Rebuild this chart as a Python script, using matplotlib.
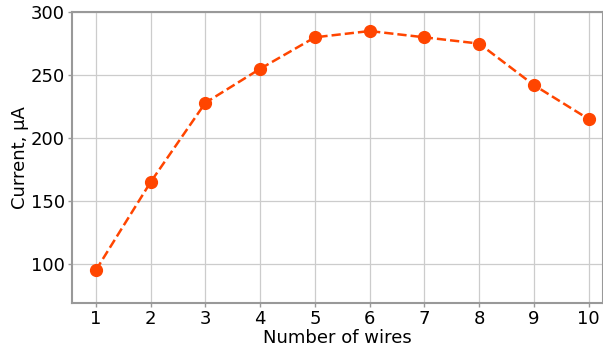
import matplotlib
matplotlib.use("Agg")
import matplotlib.pyplot as plt

wires = [1, 2, 3, 4, 5, 6, 7, 8, 9, 10]
current = [95, 165, 228, 255, 280, 285, 280, 275, 242, 215]

fig = plt.figure(figsize=(6.03, 3.47), dpi=100)
ax = fig.add_axes([0.119, 0.127, 0.881, 0.838])

ax.plot(wires, current, linestyle="--", color="#ff4500", linewidth=1.8,
        marker="o", markersize=8.5)

ax.set_xlim(0.56, 10.26)
ax.set_ylim(69, 300)
ax.set_xticks(wires)
ax.set_yticks([100, 150, 200, 250, 300])
ax.grid(True, color="#cccccc", linewidth=0.9)
ax.set_axisbelow(True)

for side in ["left", "bottom", "top", "right"]:
    ax.spines[side].set_color("#999999")
    ax.spines[side].set_linewidth(1.5)

ax.tick_params(labelsize=13, color="#999999", length=3, width=1, pad=2)
ax.set_xlabel("Number of wires", fontsize=13, labelpad=0.5)
ax.set_ylabel("Current, μA", fontsize=13, labelpad=1)

fig.savefig("out.png", dpi=100)
